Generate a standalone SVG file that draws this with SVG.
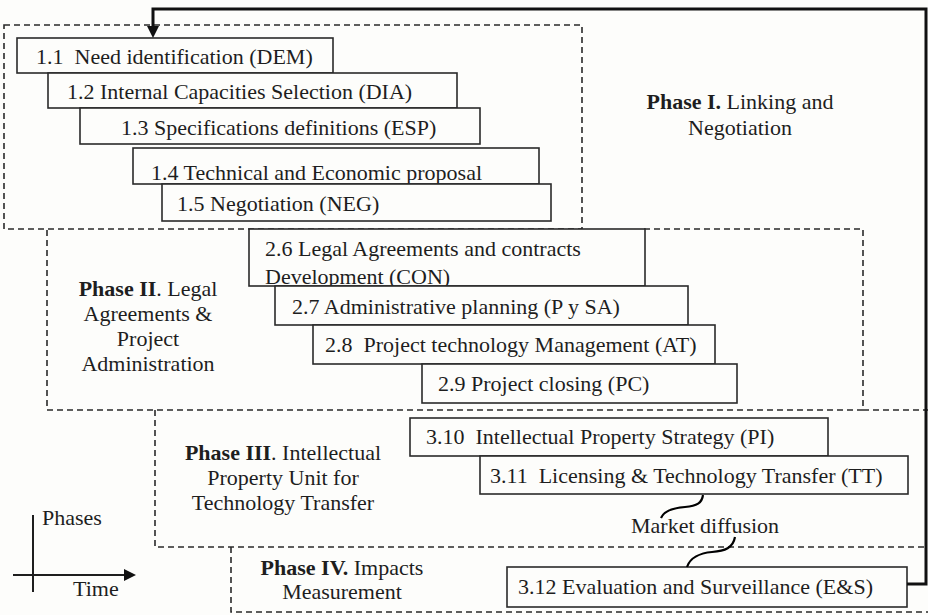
<svg xmlns="http://www.w3.org/2000/svg" width="928" height="615" viewBox="0 0 928 615">
<style>
text{font-family:"Liberation Serif","Times New Roman",serif;font-size:22px;fill:#1e1e1e}
.b{font-weight:bold}
.box{fill:#fdfdfb;stroke:#2a2a2a;stroke-width:1.6}
.ph{fill:none;stroke:#2a2a2a;stroke-width:1.6;stroke-dasharray:6 4}
</style>
<defs>
<marker id="ah" viewBox="0 0 12 12" refX="8" refY="6" markerWidth="12" markerHeight="12" markerUnits="userSpaceOnUse" orient="auto"><path d="M0,0 L12,6 L0,12 z" fill="#111"/></marker>
</defs>
<rect width="928" height="615" fill="#fdfdfb"/>

<g id="phase1">
<rect class="ph" x="4" y="25" width="578" height="204"/>
<text x="740" y="109" text-anchor="middle"><tspan class="b">Phase I.</tspan> Linking and</text>
<text x="740" y="135" text-anchor="middle">Negotiation</text>
</g>
<g id="phase2">
<path class="ph" d="M644,229 H863 V410 H47 V229"/>
<text x="148" y="296" text-anchor="middle"><tspan class="b">Phase II</tspan>. Legal</text>
<text x="148" y="321" text-anchor="middle">Agreements &amp;</text>
<text x="148" y="346" text-anchor="middle">Project</text>
<text x="148" y="371" text-anchor="middle">Administration</text>
</g>
<g id="phase3">
<path class="ph" d="M863,410 H928 M155,410 V547 H928"/>
<text x="283" y="460" text-anchor="middle"><tspan class="b">Phase III</tspan>. Intellectual</text>
<text x="283" y="485" text-anchor="middle">Property Unit for</text>
<text x="283" y="510" text-anchor="middle">Technology Transfer</text>
</g>
<g id="phase4">
<path class="ph" d="M231,547 V612 H928"/>
<text x="342" y="575" text-anchor="middle"><tspan class="b">Phase IV.</tspan> Impacts</text>
<text x="342" y="599" text-anchor="middle">Measurement</text>
</g>

<g id="n1_1"><rect class="box" x="17" y="38" width="316" height="35"/><text x="36" y="64" xml:space="preserve">1.1  Need identification (DEM)</text></g>
<g id="n1_2"><rect class="box" x="48" y="73" width="409" height="35"/><text x="67" y="99">1.2 Internal Capacities Selection (DIA)</text></g>
<g id="n1_3"><rect class="box" x="80" y="108" width="400" height="36"/><text x="121" y="135">1.3 Specifications definitions (ESP)</text></g>
<g id="n1_4"><rect class="box" x="133" y="148" width="406" height="36"/><text x="151" y="180">1.4 Technical and Economic proposal</text></g>
<g id="n1_5"><rect class="box" x="162" y="184" width="389" height="37"/><text x="177" y="211">1.5 Negotiation (NEG)</text></g>

<g id="n2_6"><rect class="box" x="249" y="229" width="396" height="57"/><text x="265" y="256">2.6 Legal Agreements and contracts</text><text x="265" y="284">Development (CON)</text></g>
<g id="n2_7"><rect class="box" x="275" y="286" width="413" height="39"/><text x="292" y="314">2.7 Administrative planning (P y SA)</text></g>
<g id="n2_8"><rect class="box" x="313" y="325" width="402" height="39"/><text x="325" y="352" xml:space="preserve">2.8  Project technology Management (AT)</text></g>
<g id="n2_9"><rect class="box" x="422" y="364" width="315" height="39"/><text x="438" y="391">2.9 Project closing (PC)</text></g>

<g id="n3_10"><rect class="box" x="410" y="418" width="418" height="38"/><text x="426" y="444" xml:space="preserve">3.10  Intellectual Property Strategy (PI)</text></g>
<g id="n3_11"><rect class="box" x="480" y="456" width="428" height="38"/><text x="490" y="483" xml:space="preserve">3.11  Licensing &amp; Technology Transfer (TT)</text></g>
<g id="n3_12"><rect class="box" x="507" y="567" width="400" height="40"/><text x="518" y="594">3.12 Evaluation and Surveillance (E&amp;S)</text></g>

<g id="market"><text x="631" y="533">Market diffusion</text></g>

<g id="connectors">
<path d="M907 584 H926 V9 H153 V34" fill="none" stroke="#111" stroke-width="3" marker-end="url(#ah)"/>
</g>
<g id="wave1"><path d="M703 495 C702 503 697 506 685 507 C672 508 664 511 661 518" fill="none" stroke="#000000" stroke-width="2.2"/></g>
<g id="wave2"><path d="M735 537 C733 548 725 551 712 552 C700 553 690 558 687 567" fill="none" stroke="#000000" stroke-width="2.2"/></g>

<g id="axes">
<line x1="33" y1="515" x2="33" y2="592" stroke="#1e1e1e" stroke-width="2"/>
<line x1="13" y1="575" x2="132" y2="575" stroke="#1e1e1e" stroke-width="2" marker-end="url(#ah)"/>
<text x="42" y="525">Phases</text>
<text x="73" y="596">Time</text>
</g>
</svg>
